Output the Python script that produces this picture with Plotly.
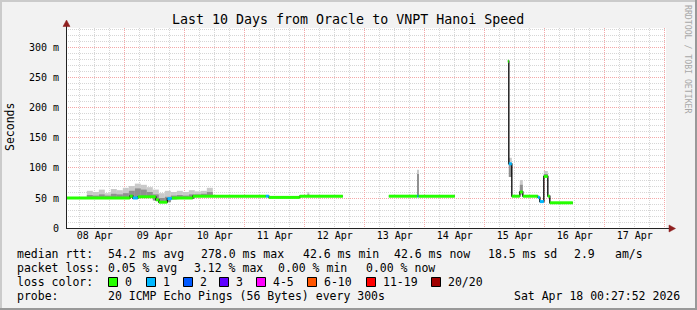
import plotly.graph_objects as go

# ---------------- data ----------------
x_range = ["2026-04-08 00:28", "2026-04-18 00:28"]

# median rtt (ms) as steps: start of each step, value, lost pings (None = no data)
med_start = ["2026-04-08 00:28", "2026-04-09 02:00", "2026-04-09 03:12", "2026-04-09 05:12",
             "2026-04-09 12:24", "2026-04-09 13:36", "2026-04-09 17:00", "2026-04-09 18:48",
             "2026-04-10 03:12", "2026-04-11 08:24", "2026-04-11 09:36", "2026-04-11 22:00",
             "2026-04-12 15:12", "2026-04-13 09:36", "2026-04-13 21:00", "2026-04-13 21:24",
             "2026-04-14 12:00", "2026-04-15 09:12", "2026-04-15 09:36", "2026-04-15 10:48",
             "2026-04-15 14:00", "2026-04-15 15:12", "2026-04-15 21:12", "2026-04-15 22:00",
             "2026-04-15 23:36", "2026-04-16 01:12", "2026-04-16 02:00", "2026-04-16 11:12"]
med_value = [50, 53, 50, 52, 47, 43, 49, 50, 53, 53, 51, 53, None, 53, 53, 53, None,
             278, 107, 53, 60, 53, 51, 44, 86, 53, 42, None]
med_loss = [0, 0, 1, 0, 0, 0, 1, 0, 0, 1, 0, 0, None, 0, 1, 0, None,
            0, 1, 0, 0, 0, 1, 1, 0, 0, 0, None]

# smoke (spread of the 20 pings): start, duration (min), outer low/high, core low/high (ms)
smoke_start = ["2026-04-08 08:48", "2026-04-08 11:12", "2026-04-08 13:36", "2026-04-08 16:00",
               "2026-04-08 18:24", "2026-04-08 20:48", "2026-04-08 23:12", "2026-04-09 01:36",
               "2026-04-09 04:00", "2026-04-09 06:24", "2026-04-09 08:48", "2026-04-09 11:12",
               "2026-04-09 13:36", "2026-04-09 16:00", "2026-04-09 18:24", "2026-04-09 20:48",
               "2026-04-09 23:12", "2026-04-10 01:36", "2026-04-10 04:00", "2026-04-10 06:24",
               "2026-04-10 08:48", "2026-04-12 01:00", "2026-04-13 21:00", "2026-04-15 09:36",
               "2026-04-15 14:00", "2026-04-15 23:36"]
smoke_minutes = [144] * 21 + [48, 24, 72, 72, 96]
smoke_lo = [49, 49, 49, 49, 49, 49, 49, 50, 50, 51, 51, 46, 42, 43, 48, 49, 49, 49, 52, 52, 52,
            53, 53, 85, 55, 85]
smoke_hi = [62, 60, 64, 58, 65, 63, 67, 70, 74, 72, 68, 64, 58, 62, 60, 62, 60, 63, 61, 62, 67,
            60, 97, 117, 80, 95]
core_lo = [49, 49, 49, 49, 49, 49, 49, 50, 50, 51, 51, 46, 42, 43, 48, 49, 49, 49, 52, 52, 52,
           53, 53, 85, 58, 85]
core_hi = [55, 54, 56, 54, 57, 56, 58, 62, 66, 64, 60, 56, 50, 52, 54, 55, 54, 56, 56, 57, 60,
           56, 90, 105, 72, 90]

y_tickvals = [0, 50, 100, 150, 200, 250, 300]
y_ticktext = ["0", "50 m", "100 m", "150 m", "200 m", "250 m", "300 m"]

loss_labels = ["0", "1", "2", "3", "4-5", "6-10", "11-19", "20/20"]
loss_colors = ["#26ff00", "#00b8ff", "#0059ff", "#5e00ff", "#ff00fe", "#ff5500", "#ff0000", "#a00000"]

title_text = "Last 10 Days from Oracle to VNPT Hanoi Speed"
rtt_items = ["median rtt:", "54.2 ms avg", "278.0 ms max", "42.6 ms min", "42.6 ms now",
             "18.5 ms sd", "2.9", "am/s"]
loss_items = ["packet loss:", "0.05 % avg", "3.12 % max", "0.00 % min", "0.00 % now"]
probe_items = ["probe:", "20 ICMP Echo Pings (56 Bytes) every 300s", "Sat Apr 18 00:27:52 2026"]

# ---------------- layout helpers ----------------
W, H = 697, 310
L, T, PW, PH = 66, 28, 600, 200
MONO = "DejaVu Sans Mono"


def px(x):
    return (x - L) / PW


def py(y):
    return (T + PH - y) / PH


def band(loss):
    if loss <= 3:
        return loss
    if loss <= 5:
        return 4
    if loss <= 10:
        return 5
    if loss <= 19:
        return 6
    return 7


fig = go.Figure()

# smoke
fig.add_trace(go.Bar(x=smoke_start, base=smoke_lo, y=[h - l for h, l in zip(smoke_hi, smoke_lo)],
                     width=[m * 60000 for m in smoke_minutes], offset=0,
                     marker=dict(color="#c9c9c9", line=dict(width=0)), hoverinfo="skip"))
fig.add_trace(go.Bar(x=smoke_start, base=core_lo, y=[h - l for h, l in zip(core_hi, core_lo)],
                     width=[m * 60000 for m in smoke_minutes], offset=0,
                     marker=dict(color="#909090", line=dict(width=0)), hoverinfo="skip"))

# thin dark median line
bx, by = [], []
for i in range(len(med_start) - 1):
    v = med_value[i]
    if v is None:
        continue
    bx += [med_start[i], med_start[i + 1]]
    by += [v, v]
    if med_value[i + 1] is None:
        bx.append(None)
        by.append(None)
fig.add_trace(go.Scatter(x=bx, y=by, mode="lines", line=dict(color="#000000", width=1.3),
                         connectgaps=False, hoverinfo="skip"))

# loss-coloured median segments
for b, col in enumerate(loss_colors):
    sx, sy = [], []
    for i in range(len(med_start) - 1):
        if med_value[i] is None or band(med_loss[i]) != b:
            continue
        sx += [med_start[i], med_start[i + 1], None]
        sy += [med_value[i], med_value[i], None]
    if sx:
        fig.add_trace(go.Scatter(x=sx, y=sy, mode="lines", line=dict(color=col, width=3),
                                 connectgaps=False, hoverinfo="skip"))

annotations = []


def text(x, y, s, size=11.5, anchor="left", color="#000", angle=0):
    annotations.append(dict(x=px(x), y=py(y), xref="paper", yref="paper", text=s, showarrow=False,
                            xanchor=anchor, yanchor="middle", textangle=angle,
                            font=dict(family=MONO, size=size, color=color), borderpad=0))


text(348, 20, title_text, size=13.3, anchor="center")
text(10, 127, "Seconds", size=11.5, anchor="center", angle=-90)
text(688, 59, "RRDTOOL / TOBI OETIKER", size=8.2, anchor="center", color="#a8a8a8", angle=90)

for x, s in zip([16, 107, 200, 302, 393, 487, 573, 614], rtt_items):
    text(x, 254, s)
for x, s in zip([16, 107, 193, 277, 365], loss_items):
    text(x, 268, s)
text(16, 282, "loss color:")
box_x = [108, 146, 183, 219, 256, 307, 366, 431]
for x, s in zip(box_x, loss_labels):
    text(x + 16, 282, s)
for x, s in zip([16, 107, 513], probe_items):
    text(x, 296, s)

shapes = []


def rect(x0, y0, x1, y1, fill, line=None):
    shapes.append(dict(type="rect", xref="paper", yref="paper", x0=px(x0), x1=px(x1),
                       y0=py(y0), y1=py(y1), fillcolor=fill,
                       line=dict(width=1 if line else 0, color=line or fill), layer="above"))


for x, col in zip(box_x, loss_colors):
    rect(x + 0.5, 277.5, x + 9.5, 286.5, col, "#000")

# frame shading
rect(0, 0, W, 2, "#cbcbcb")
rect(0, 0, 2, H, "#cbcbcb")
rect(0, H - 2, W, H, "#999999")
rect(W - 2, 0, W, H, "#999999")

# axes lines and arrows
shapes.append(dict(type="line", xref="paper", yref="paper", x0=px(66.5), x1=px(66.5), y0=py(228), y1=py(23),
                   line=dict(color="#222", width=1), layer="above"))
shapes.append(dict(type="line", xref="paper", yref="paper", x0=px(66), x1=px(670), y0=py(228.5), y1=py(228.5),
                   line=dict(color="#222", width=1), layer="above"))


def tri(pts):
    d = "M " + " L ".join(f"{px(a)},{py(b)}" for a, b in pts) + " Z"
    shapes.append(dict(type="path", xref="paper", yref="paper", path=d, fillcolor="#8f1f1f",
                       line=dict(color="#8f1f1f", width=0.5), layer="above"))


tri([(63, 26.5), (70, 26.5), (66.5, 20)])
tri([(669, 225), (669, 232), (675.5, 228.5)])

fig.update_layout(
    width=W, height=H, margin=dict(l=L, r=W - L - PW, t=T, b=H - T - PH),
    paper_bgcolor="#f2f2f2", plot_bgcolor="#ffffff", showlegend=False,
    barmode="overlay", annotations=annotations, shapes=shapes,
    xaxis=dict(type="date", range=x_range, tickmode="linear", tick0="2026-04-08", dtick=86400000,
               tickformat="%d %b", ticklabelmode="period", showgrid=True, gridcolor="#f4a8a8",
               griddash="1px,1px", gridwidth=1, zeroline=False, showline=False, ticks="",
               tickfont=dict(family=MONO, size=10, color="#000"),
               minor=dict(dtick=21600000, tick0="2026-04-08", showgrid=True, gridcolor="#d6d6d6",
                          griddash="1px,1px", gridwidth=1)),
    yaxis=dict(range=[0, 333.3], tickmode="array", tickvals=y_tickvals, ticktext=y_ticktext,
               showgrid=True, gridcolor="#f4a8a8", griddash="1px,1px", gridwidth=1, zeroline=False,
               showline=False, ticks="", ticklabelstandoff=6,
               tickfont=dict(family=MONO, size=10, color="#000"),
               minor=dict(dtick=10, showgrid=True, gridcolor="#d6d6d6", griddash="1px,1px", gridwidth=1)),
)

fig.write_html("out.html")
